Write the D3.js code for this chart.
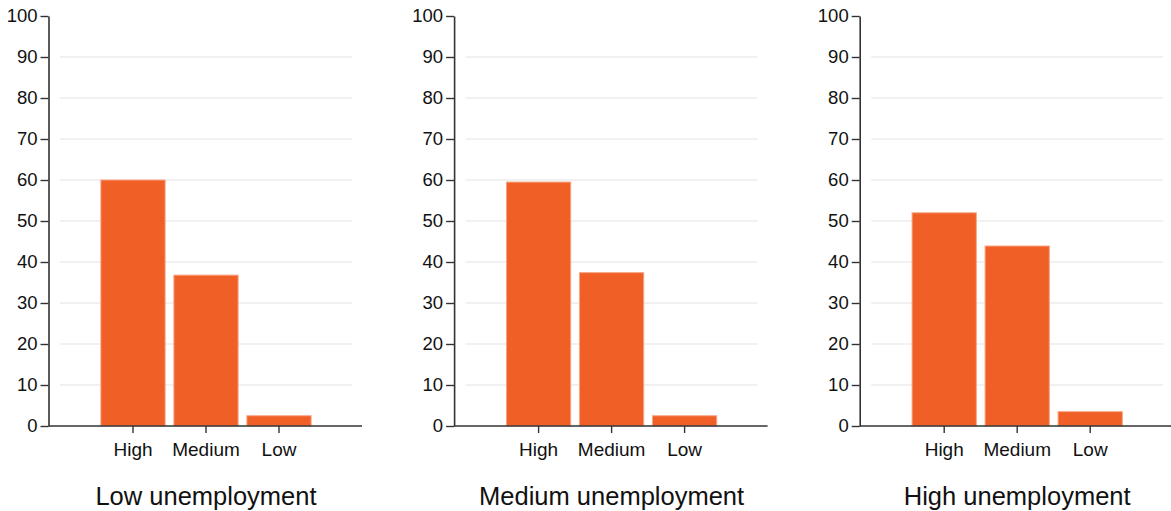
<!DOCTYPE html>
<html>
<head>
<meta charset="utf-8">
<script src="https://cdn.jsdelivr.net/npm/d3@7"></script>
<style>
  html, body { margin: 0; padding: 0; background: #fff; }
  svg { display: block; font-family: "Liberation Sans", Arial, sans-serif; }
</style>
</head>
<body>
<svg id="chart" width="1171" height="511"></svg>
<script>
const categories = ["High", "Medium", "Low"];
const panelTitles = ["Low unemployment", "Medium unemployment", "High unemployment"];
const lowUnemployment = [60, 36.8, 2.5];
const mediumUnemployment = [59.5, 37.4, 2.5];
const highUnemployment = [52, 43.9, 3.5];
const yTicks = [0, 10, 20, 30, 40, 50, 60, 70, 80, 90, 100];

const panelValues = [lowUnemployment, mediumUnemployment, highUnemployment];

const svg = d3.select("#chart");
const panelStep = 405.6;
const axisX = 48.5;
const y0 = 426, yTop = 16;

const y = d3.scaleLinear().domain([0, 100]).range([y0, yTop]);
const x = d3.scaleBand().domain(categories).range([60, 352]).paddingInner(0.12).paddingOuter(0.56);

panelValues.forEach((vals, i) => {
  const g = svg.append("g").attr("transform", `translate(${i * panelStep},0)`);

  // gridlines
  g.append("g").selectAll("line")
    .data(yTicks.filter(t => t > 0 && t < 100))
    .join("line")
    .attr("x1", 60).attr("x2", 352)
    .attr("y1", d => y(d)).attr("y2", d => y(d))
    .attr("stroke", "#e4e4e4").attr("stroke-width", 1.2);

  // bars
  g.append("g").selectAll("rect")
    .data(categories.map((c, k) => ({ c, v: vals[k] })))
    .join("rect")
    .attr("x", d => x(d.c))
    .attr("width", x.bandwidth())
    .attr("y", d => y(d.v))
    .attr("height", d => y0 - y(d.v))
    .attr("fill", "#f05f25")
    .attr("stroke", "#f8a585")
    .attr("stroke-width", 1);

  // y axis
  const yAxis = g.append("g")
    .attr("transform", `translate(${axisX},0)`)
    .call(d3.axisLeft(y).tickValues(yTicks).tickSize(8).tickPadding(3).tickSizeOuter(0));
  yAxis.select(".domain").attr("stroke", "#333").attr("stroke-width", 1.6);
  yAxis.selectAll(".tick line").attr("stroke", "#333").attr("stroke-width", 1.4);
  yAxis.selectAll(".tick text").attr("fill", "#111").style("font-size", "18.5px")
    .style("font-family", "'Liberation Sans', Arial, sans-serif");

  // x axis
  const xAxisG = g.append("g").attr("transform", `translate(0,${y0})`);
  xAxisG.append("line").attr("x1", axisX).attr("x2", 362).attr("y1", 0).attr("y2", 0)
    .attr("stroke", "#333").attr("stroke-width", 1.6);
  const xa = xAxisG.append("g")
    .call(d3.axisBottom(x).tickSize(7).tickPadding(10).tickSizeOuter(0));
  xa.select(".domain").remove();
  xa.selectAll(".tick line").attr("stroke", "#333").attr("stroke-width", 1.4);
  xa.selectAll(".tick text").attr("fill", "#111").style("font-size", "19px")
    .style("font-family", "'Liberation Sans', Arial, sans-serif");

  // title
  g.append("text")
    .attr("x", x("Medium") + x.bandwidth() / 2)
    .attr("y", 505)
    .attr("text-anchor", "middle")
    .attr("fill", "#111")
    .style("font-size", "25.5px")
    .text(panelTitles[i]);
});
</script>
</body>
</html>
